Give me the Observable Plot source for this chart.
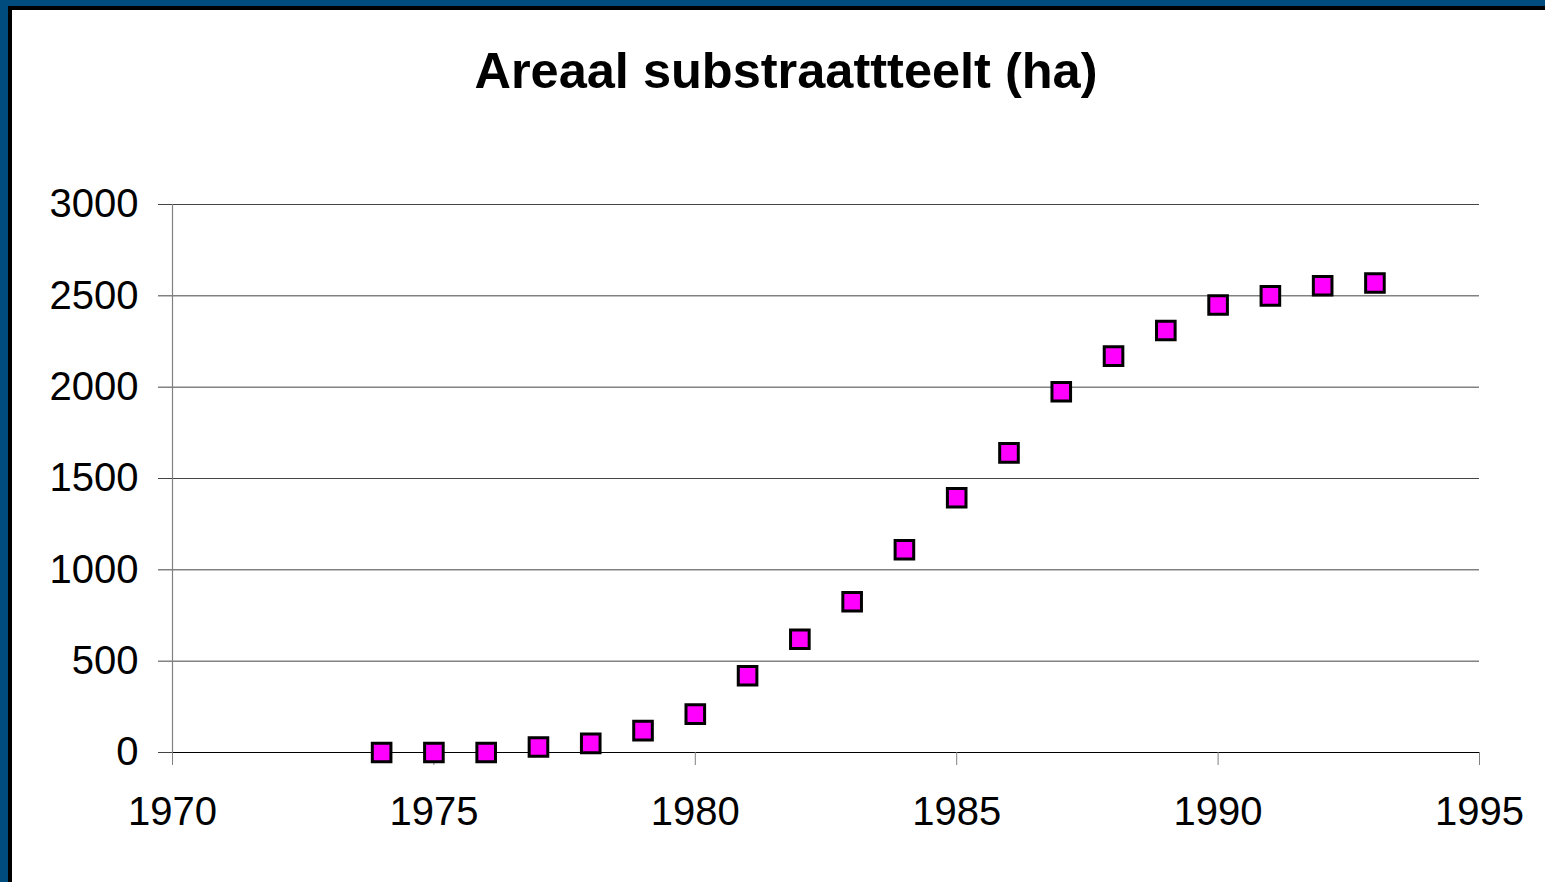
<!DOCTYPE html>
<html>
<head>
<meta charset="utf-8">
<script src="https://cdn.jsdelivr.net/npm/d3@7"></script>
<script src="https://cdn.jsdelivr.net/npm/@observablehq/plot@0.6"></script>
<style>
  html, body { margin: 0; padding: 0; width: 1545px; height: 882px; overflow: hidden; background: #fff; }
  #frame { position: absolute; left: 0; top: 0; width: 1545px; height: 882px; background: #004c7e; }
  #inner { position: absolute; left: 8px; top: 6px; right: 0; bottom: 0; background: #fff; border-left: 4px solid #000; border-top: 4px solid #000; }
  #title { position: absolute; left: 0; width: 1572px; top: 46px; text-align: center;
           font-family: "Liberation Sans", Arial, sans-serif; font-weight: bold; font-size: 50.5px; line-height: 50px; color: #000; }
  #chart { position: absolute; left: 0; top: 0; }
  #chart svg { background: transparent; overflow: visible; }
</style>
</head>
<body>
<div id="frame"><div id="inner"></div></div>
<div id="title">Areaal substraattteelt (ha)</div>
<div id="chart"></div>
<script>
const years  = [1974, 1975, 1976, 1977, 1978, 1979, 1980, 1981, 1982, 1983, 1984, 1985, 1986, 1987, 1988, 1989, 1990, 1991, 1992, 1993];
const areaHa = [0, 0, 0, 30, 50, 120, 210, 420, 620, 825, 1110, 1395, 1640, 1975, 2170, 2310, 2450, 2500, 2555, 2570];
const xTicks = [1970, 1975, 1980, 1985, 1990, 1995];
const yTicks = [0, 500, 1000, 1500, 2000, 2500, 3000];

const data = years.map((y, i) => ({year: y, area: areaHa[i]}));

const plot = Plot.plot({
  width: 1545,
  height: 882,
  marginLeft: 172,
  marginRight: 66,
  marginTop: 204,
  marginBottom: 130,
  style: {fontFamily: "'Liberation Sans', Arial, sans-serif", fontSize: "40px", color: "#000", background: "transparent"},
  x: {domain: [1970, 1995], label: null},
  y: {domain: [0, 3000], label: null},
  marks: [
    Plot.gridY(yTicks, {stroke: "#444", strokeOpacity: 1, strokeWidth: 1}),
    Plot.axisY(yTicks, {tickSize: 14, tickPadding: 20, tickFormat: d => String(d), stroke: "#444", fontSize: 40, label: null}),
    Plot.ruleX([1970], {y1: 0, y2: 3000, stroke: "#808080", strokeWidth: 1.2}),
    Plot.ruleY([0], {stroke: "#000", strokeWidth: 1.2}),
    Plot.axisX(xTicks, {tickSize: 13, tickPadding: 31, tickFormat: d => String(d), stroke: "#808080", fontSize: 40, label: null}),
    Plot.dot(data, {x: "year", y: "area", symbol: "square", r: 10.5, fill: "#ff00ff", stroke: "#000", strokeWidth: 3})
  ]
});
document.getElementById("chart").appendChild(plot);
</script>
</body>
</html>
